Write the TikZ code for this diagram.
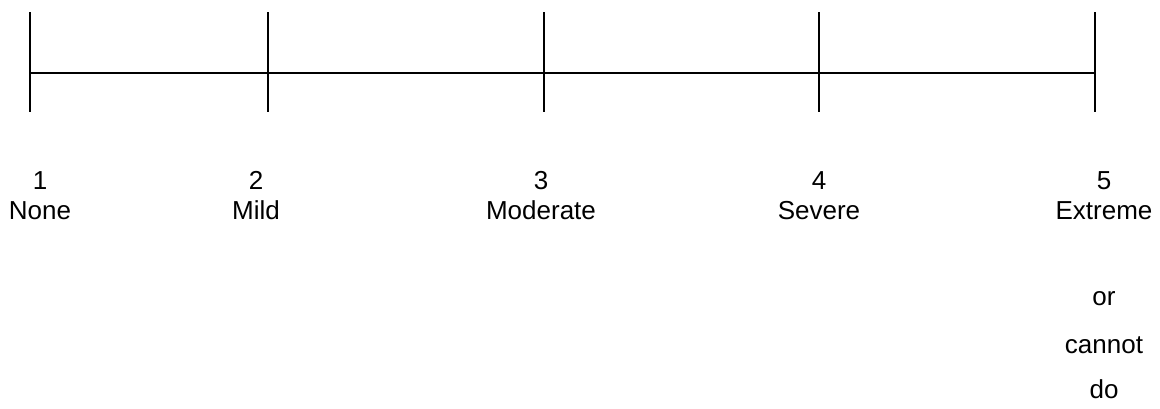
\documentclass[tikz,border=0pt]{standalone}
\usepackage{fontspec}
\setmainfont{Liberation Sans}
\tikzstyle{bar}=[line width=1.9pt]
\tikzstyle{lbl}=[anchor=base,inner sep=0pt,font=\fontsize{19.5}{23}\selectfont]
\tikzstyle{none}=[]

\begin{document}
\begin{tikzpicture}[x=0.75pt,y=-0.75pt]
            \useasboundingbox (0,0) rectangle (1160,408);
            \coordinate (1t) at (30, 12);
            \coordinate (1b) at (30, 112);
            \coordinate (2t) at (268, 12);
            \coordinate (2b) at (268, 112);
            \coordinate (3t) at (544, 12);
            \coordinate (3b) at (544, 112);
            \coordinate (4t) at (819, 12);
            \coordinate (4b) at (819, 112);
            \coordinate (5t) at (1095, 12);
            \coordinate (5b) at (1095, 112);
            \coordinate (left) at (30, 73);
            \coordinate (right) at (1095, 73);
            \node [style=lbl] (n1) at (40, 189) {1};
            \node [style=lbl] (none) at (40, 219) {None};
            \node [style=lbl] (n2) at (256, 189) {2};
            \node [style=lbl] (mild) at (256, 219) {Mild};
            \node [style=lbl] (n3) at (541, 189) {3};
            \node [style=lbl] (moderate) at (541, 219) {Moderate};
            \node [style=lbl] (n4) at (819, 189) {4};
            \node [style=lbl] (severe) at (819, 219) {Severe};
            \node [style=lbl] (n5) at (1104, 189) {5};
            \node [style=lbl] (extreme) at (1104, 219) {Extreme};
            \node [style=lbl] (or) at (1104, 305) {or};
            \node [style=lbl] (cannot) at (1104, 353) {cannot};
            \node [style=lbl] (do) at (1104, 398) {do};
            \draw [style=bar] (1t) to (1b);
            \draw [style=bar] (2t) to (2b);
            \draw [style=bar] (3t) to (3b);
            \draw [style=bar] (4t) to (4b);
            \draw [style=bar] (5t) to (5b);
            \draw [style=bar] (left) to (right);
    \end{tikzpicture}
\end{document}
